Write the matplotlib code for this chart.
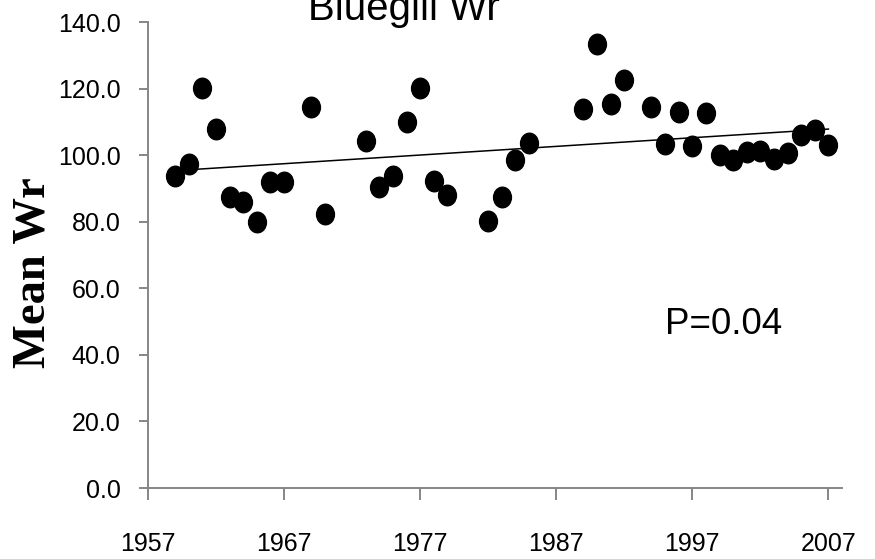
import matplotlib
matplotlib.use('Agg')
import matplotlib.pyplot as plt
import numpy as np
from matplotlib.path import Path
from matplotlib.transforms import Affine2D

years = [1959, 1960, 1961, 1962, 1963, 1964, 1965, 1966, 1967, 1969,
         1970, 1973, 1974, 1975, 1976, 1977, 1978, 1979, 1982, 1983,
         1984, 1985, 1989, 1990, 1991, 1992, 1994, 1995, 1996, 1997,
         1998, 1999, 2000, 2001, 2002, 2003, 2004, 2005, 2006, 2007]
mean_wr = [93.7, 97.3, 120.1, 108.0, 87.3, 86.0, 79.8, 92.0, 92.0, 114.5,
           82.3, 104.3, 90.3, 93.8, 109.9, 120.1, 92.2, 88.0, 80.1, 87.4,
           98.6, 103.7, 113.8, 133.3, 115.3, 122.6, 114.4, 103.4, 112.9, 102.8,
           112.6, 100.0, 98.6, 100.9, 101.2, 98.7, 100.5, 106.2, 107.5, 103.0]
x_ticks = [1957, 1967, 1977, 1987, 1997, 2007]
y_ticks = [0, 20, 40, 60, 80, 100, 120, 140]

grey = '#868686'

fig = plt.figure(figsize=(8.75, 5.59), dpi=100)
ax = fig.add_axes([148 / 875, 1 - 488 / 559, (842 - 148) / 875, (488 - 22) / 559])

# slightly tall ellipse, like the excel markers
ellipse = Path.unit_circle().transformed(Affine2D().scale(0.87, 1.0))

x = np.array(years, dtype=float)
y = np.array(mean_wr)
ax.plot(x, y, linestyle='none', marker=ellipse, markersize=14.8,
        color='black', zorder=3)

# linear trendline
coef = np.polyfit(x, y, 1)
xl = np.array([x.min(), x.max()])
ax.plot(xl, np.polyval(coef, xl), color='black', linewidth=1.1, zorder=2)

ax.set_xlim(1957, 2008)
ax.set_ylim(0, 140)
ax.set_xticks(x_ticks)
ax.set_yticks(y_ticks)
ax.set_yticklabels([f'{v:.1f}' for v in y_ticks])

for side in ['top', 'right']:
    ax.spines[side].set_visible(False)
for side in ['left', 'bottom']:
    ax.spines[side].set_color(grey)
    ax.spines[side].set_linewidth(1.4)

ax.tick_params(axis='x', direction='out', length=8.6, width=1.4, color=grey, pad=23)
ax.tick_params(axis='y', direction='out', length=6.3, width=1.4, color=grey, pad=13.5)
for lab in ax.get_xticklabels() + ax.get_yticklabels():
    lab.set_family('Liberation Sans')
    lab.set_fontsize(18)

ax.text(1995.0, 49, 'P=0.04', fontsize=26.5, family='Liberation Sans',
        va='center', ha='left')

fig.text(403.5 / 875, 1 - 20 / 559, 'Bluegill Wr', fontsize=29,
         family='Liberation Sans', ha='center', va='baseline')
fig.text(34 / 875, 1 - 273 / 559, 'Mean Wr', fontsize=33.5,
         family='Liberation Serif', fontweight='bold', rotation=90,
         ha='center', va='center')

fig.savefig('out.png', dpi=100)
